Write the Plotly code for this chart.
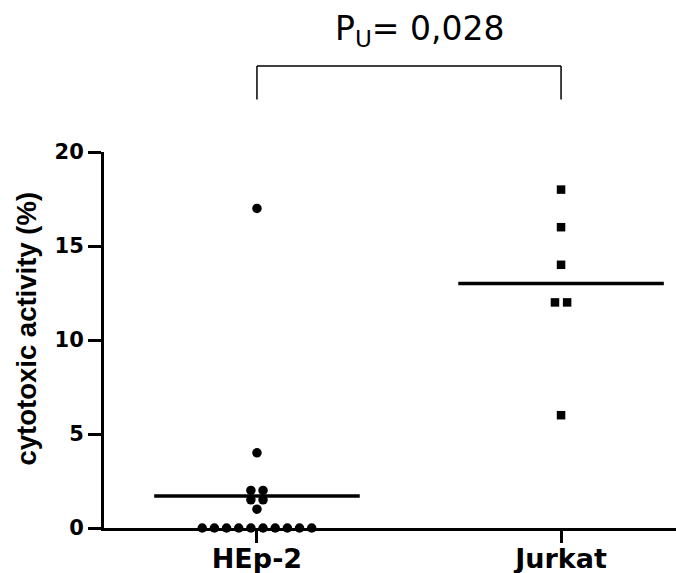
import plotly.graph_objects as go
from collections import Counter

# ---- data ----
categories = ["HEp-2", "Jurkat"]
hep2_values = [17, 4, 2, 2, 1.5, 1.5, 1, 0, 0, 0, 0, 0, 0, 0, 0, 0, 0]
jurkat_values = [18, 16, 14, 12, 12, 6]
y_ticks = [0, 5, 10, 15, 20]
p_label = "P<sub>U</sub>= 0,028"

series = [hep2_values, jurkat_values]
symbols = ["circle", "square"]

X_RANGE = [-0.503, 1.378]
DOT_STEP = 0.040
HALF_LINE = 0.338


def swarm(values, center):
    counts = Counter(values)
    seen = Counter()
    xs = []
    for v in values:
        n = counts[v]
        k = seen[v]
        seen[v] += 1
        xs.append(center + (k - (n - 1) / 2) * DOT_STEP)
    return xs


fig = go.Figure()
for i, (vals, sym) in enumerate(zip(series, symbols)):
    fig.add_trace(go.Scatter(
        x=swarm(vals, i), y=vals, mode="markers",
        marker=dict(symbol=sym, size=9.5 if sym == "circle" else 8.5, color="black",
                    line=dict(width=0)),
        cliponaxis=False, showlegend=False, hoverinfo="skip"))
    mean = sum(vals) / len(vals)
    fig.add_trace(go.Scatter(
        x=[i - HALF_LINE, i + HALF_LINE], y=[mean, mean], mode="lines",
        line=dict(color="black", width=3.5), showlegend=False, hoverinfo="skip"))


def px(xv):
    return (xv - X_RANGE[0]) / (X_RANGE[1] - X_RANGE[0])


# significance bracket
y_top, y_bot = 1.2285, 1.1395
fig.add_shape(type="line", xref="paper", yref="paper", x0=px(0), x1=px(1), y0=y_top, y1=y_top,
              line=dict(color="black", width=1.5))
for xi in (0, 1):
    fig.add_shape(type="line", xref="paper", yref="paper", x0=px(xi), x1=px(xi), y0=y_top, y1=y_bot,
                  line=dict(color="black", width=1.5))

fig.add_annotation(text=p_label, xref="paper", yref="paper", x=px(0.535), y=1.322,
                   xanchor="center", yanchor="middle", showarrow=False,
                   font=dict(family="DejaVu Sans", size=33, color="black"))

fig.add_annotation(text="<b>cytotoxic activity (%)</b>", xref="paper", yref="paper",
                   x=-0.135, y=0.53, xanchor="center", yanchor="middle", textangle=-90,
                   showarrow=False,
                   font=dict(family="Liberation Sans", size=27.5, color="black"))

fig.update_layout(
    width=676, height=573,
    margin=dict(l=104, r=0, t=152, b=45, autoexpand=False),
    plot_bgcolor="white", paper_bgcolor="white",
    font=dict(family="DejaVu Sans", color="black"),
)
fig.update_xaxes(
    range=X_RANGE, tickmode="array", tickvals=[0, 1], ticktext=[f"<b>{c}</b>" for c in categories],
    showgrid=False, zeroline=False, showline=True, linecolor="black", linewidth=3,
    ticks="outside", ticklen=12, tickwidth=3, tickcolor="black", automargin=False,
    ticklabelstandoff=-7,
    tickfont=dict(family="DejaVu Sans", size=27, color="black"))
fig.update_yaxes(
    range=[0, 20], tickmode="array", tickvals=y_ticks, ticktext=[f"<b>{t}</b>" for t in y_ticks],
    showgrid=False, zeroline=False, showline=True, linecolor="black", linewidth=3,
    ticks="outside", ticklen=13, tickwidth=3, tickcolor="black", automargin=False,
    tickfont=dict(family="DejaVu Sans", size=21, color="black"))

fig.write_html("out.html", config={"displayModeBar": False},
               post_script="document.body.style.margin='0';document.body.style.overflow='hidden';")
